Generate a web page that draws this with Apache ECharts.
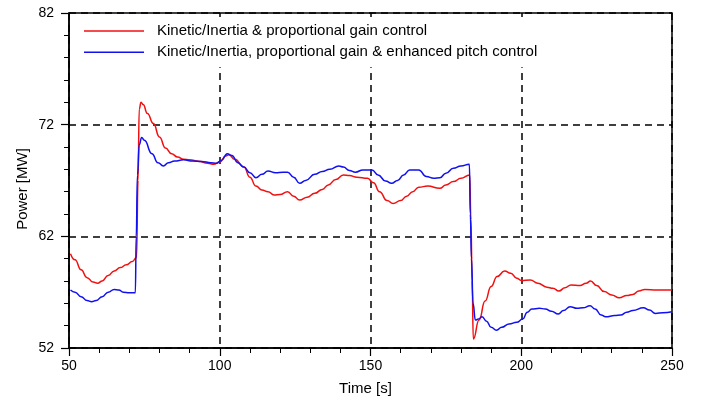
<!DOCTYPE html>
<html>
<head>
<meta charset="utf-8">
<script src="https://cdn.jsdelivr.net/npm/echarts@6/dist/echarts.min.js"></script>
<style>
  html, body { margin: 0; padding: 0; background: #fff; }
  #chart { width: 701px; height: 396px; }
</style>
</head>
<body>
<div id="chart"></div>
<script>
// Series names
const seriesNames = [
  'Kinetic/Inertia & proportional gain control',
  'Kinetic/Inertia, proportional gain & enhanced pitch control'
];

// Time [s] samples and power [MW] for the proportional-gain case
const redTime = [50.5, 52, 54, 56, 58, 59.5, 61, 63, 65, 67, 69, 71, 72.4, 72.9, 73.3, 73.9, 74.6, 76, 78, 80, 82, 84, 86, 88, 90, 93, 96, 98, 100, 102, 103, 105, 108, 110, 112, 114, 116, 118, 120, 122.5, 124.5, 126.5, 129, 131.5, 134, 136, 138.5, 141, 143, 145.5, 149, 151, 153, 155.5, 157.5, 160, 162, 164, 166, 169, 173, 175, 177.5, 180, 182.9, 183.3, 183.7, 184.1, 186, 188, 190, 192, 194.5, 196.5, 198.5, 200, 203, 205.5, 208.5, 210.5, 212.5, 214.5, 216.5, 219.5, 221.5, 223, 225, 227.5, 230, 232.5, 235, 237, 239, 241, 245, 250];
const redPower = [60.45, 59.9, 59.0, 58.3, 57.9, 57.8, 58.0, 58.5, 58.9, 59.2, 59.45, 59.75, 60.1, 67.0, 73.4, 74.0, 73.8, 73.0, 72.1, 70.9, 69.9, 69.4, 69.1, 68.9, 68.85, 68.72, 68.55, 68.45, 68.65, 69.2, 69.3, 68.9, 68.2, 67.3, 66.5, 66.15, 66.0, 65.7, 65.75, 66.0, 65.6, 65.25, 65.5, 65.85, 66.2, 66.6, 67.1, 67.5, 67.45, 67.3, 67.2, 66.8, 66.0, 65.2, 64.95, 65.2, 65.6, 66.0, 66.4, 66.5, 66.3, 66.6, 66.9, 67.2, 67.5, 63.5, 58.0, 52.8, 54.5, 56.2, 57.5, 58.4, 58.9, 58.7, 58.25, 58.05, 58.1, 57.8, 57.45, 57.35, 57.1, 57.4, 57.65, 57.6, 57.8, 58.0, 57.6, 57.05, 56.75, 56.5, 56.7, 56.8, 57.1, 57.25, 57.2, 57.2];

// Time [s] samples and power [MW] for the enhanced pitch control case
const blueTime = [50.5, 52, 54, 56, 57.5, 59, 61, 63, 65, 66.5, 68, 70, 72.0, 72.3, 72.7, 73.3, 74.1, 75, 77.5, 79.5, 81.3, 83, 85, 88, 91, 94, 97, 99, 100.5, 102.5, 104, 106, 108, 110, 112, 114, 116, 118.5, 121, 122.5, 124.5, 126.5, 128.5, 131.5, 134, 136.5, 139.5, 141, 143, 145, 147.5, 150.5, 152.5, 155, 157, 159, 161, 163, 166, 168.5, 171, 173, 175, 177.5, 180, 182.8, 183.1, 183.5, 184.0, 184.8, 185.8, 187, 188.5, 190, 191.8, 193.5, 196, 198.5, 200.5, 202, 203.5, 206, 208, 210, 212.3, 214, 216.2, 218.5, 220.5, 222.8, 224.5, 226.5, 228, 231, 233, 235, 237, 240.5, 242.5, 244.5, 247, 250];
const bluePower = [57.2, 57.0, 56.6, 56.25, 56.15, 56.25, 56.6, 57.0, 57.25, 57.2, 57.0, 56.95, 56.95, 62.0, 67.5, 70.2, 70.85, 70.6, 69.4, 68.6, 68.3, 68.6, 68.75, 68.85, 68.75, 68.7, 68.6, 68.55, 68.8, 69.4, 69.25, 68.6, 68.2, 67.7, 67.25, 67.55, 67.85, 67.7, 67.75, 67.75, 67.3, 66.75, 67.0, 67.55, 67.8, 68.0, 68.3, 68.2, 67.9, 67.75, 67.95, 67.95, 67.5, 66.95, 66.75, 67.0, 67.5, 67.95, 67.95, 67.35, 67.2, 67.25, 67.65, 68.1, 68.3, 68.45, 64.0, 60.0, 56.0, 54.5, 54.6, 54.8, 54.4, 53.85, 53.6, 53.85, 54.15, 54.3, 54.6, 55.2, 55.5, 55.55, 55.5, 55.3, 55.05, 55.35, 55.7, 55.55, 55.6, 55.78, 55.5, 54.95, 54.8, 54.9, 54.95, 55.2, 55.35, 55.6, 55.4, 55.1, 55.15, 55.25];

// Axis ranges and ticks
const xMin = 50, xMax = 250, xStep = 50;
const yMin = 52, yMax = 82, yStep = 10;

const pair = (ts, vs) => ts.map((t, i) => [t, vs[i]]);

const chart = echarts.init(document.getElementById('chart'), null, { renderer: 'canvas' });

const fontFamily = '"Liberation Sans", Arial, sans-serif';
const gridDash = { color: '#000', width: 1.5, type: [7, 5] };
const red = '#f01010';
const blue = '#1010f0';

chart.setOption({
  animation: false,
  backgroundColor: '#fff',
  textStyle: { fontFamily },
  grid: {
    left: 69, right: 29, top: 13, bottom: 48,
    outerBoundsMode: 'none', containLabel: false,
    show: true, borderColor: '#000', borderWidth: 1.5, backgroundColor: 'transparent'
  },
  legend: {
    orient: 'vertical',
    left: 72, top: 17,
    padding: [6, 12, 7, 12],
    backgroundColor: '#fff',
    icon: 'rect',
    itemWidth: 60, itemHeight: 1.5, itemGap: 5.3,
    textStyle: { fontSize: 15, lineHeight: 16, color: '#000', padding: [0, 0, 0, 8], fontFamily },
    data: seriesNames
  },
  xAxis: {
    type: 'value', min: xMin, max: xMax, interval: xStep,
    name: 'Time [s]', nameLocation: 'middle', nameGap: 33, nameMoveOverlap: false,
    nameTextStyle: { fontSize: 15, color: '#000', fontFamily, padding: [0, 10, 0, 0] },
    axisLine: { show: true, lineStyle: { color: '#000', width: 1.5 } },
    axisTick: { show: true, inside: false, length: 8, lineStyle: { color: '#000', width: 1.2 } },
    minorTick: { show: true, splitNumber: 5, length: 5, lineStyle: { color: '#000', width: 1 } },
    axisLabel: { fontSize: 14, color: '#000', margin: 11, fontFamily },
    splitLine: { show: true, lineStyle: gridDash }
  },
  yAxis: {
    type: 'value', min: yMin, max: yMax, interval: yStep,
    name: 'Power [MW]', nameLocation: 'middle', nameGap: 39, nameMoveOverlap: false,
    nameTextStyle: { fontSize: 15, color: '#000', fontFamily, padding: [0, 17, 0, 0] },
    axisLine: { show: true, lineStyle: { color: '#000', width: 1.5 } },
    axisTick: { show: true, inside: false, length: 8, lineStyle: { color: '#000', width: 1.2 } },
    minorTick: { show: true, splitNumber: 5, length: 5, lineStyle: { color: '#000', width: 1 } },
    axisLabel: { fontSize: 14, color: '#000', margin: 15, fontFamily },
    splitLine: { show: true, lineStyle: gridDash }
  },
  series: [
    {
      name: seriesNames[0], type: 'line', data: pair(redTime, redPower),
      symbol: 'none', smooth: 0.5, smoothMonotone: 'x',
      lineStyle: { color: red, width: 1.5 }, itemStyle: { color: red }, z: 3
    },
    {
      name: seriesNames[1], type: 'line', data: pair(blueTime, bluePower),
      symbol: 'none', smooth: 0.5, smoothMonotone: 'x',
      lineStyle: { color: blue, width: 1.5 }, itemStyle: { color: blue }, z: 4
    }
  ]
});
</script>
</body>
</html>
